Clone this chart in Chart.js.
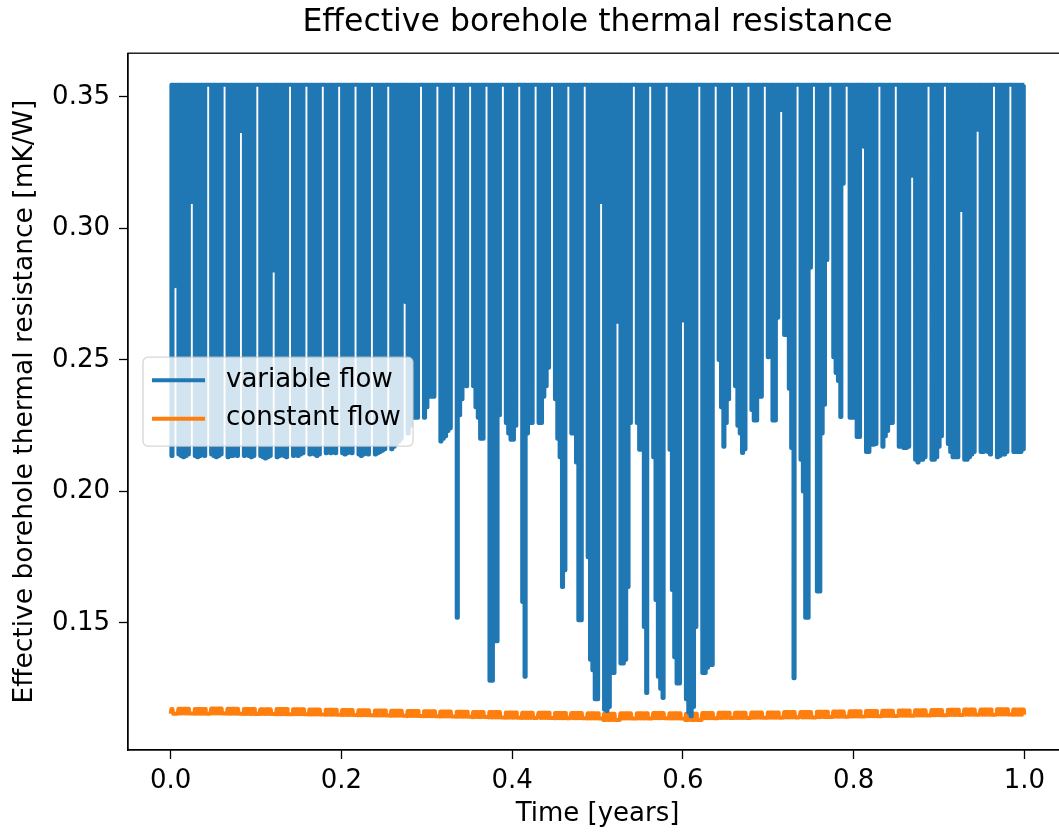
<!DOCTYPE html>
<html><head><meta charset="utf-8">
<script src="https://cdn.jsdelivr.net/npm/chart.js@4.4.0/dist/chart.umd.min.js"></script>
<style>
html,body{margin:0;padding:0;overflow:hidden;background:#fff;width:1059px;height:832px}
#wrap{position:absolute;left:0;top:0;width:1068px;height:832px}
</style>
</head><body><div id="wrap"><canvas id="c" width="1068" height="832"></canvas></div>
<script>
const chartTitle = "Effective borehole thermal resistance";
const xLabel = "Time [years]";
const yLabel = "Effective borehole thermal resistance [mK/W]";
const seriesNames = ["variable flow", "constant flow"];
const xTicks = [0.0, 0.2, 0.4, 0.6, 0.8, 1.0];
const yTicks = [0.15, 0.20, 0.25, 0.30, 0.35];
const daysPerYear = 365;
// resistance level when the pump runs at low flow (top of every daily swing)
const H = 0.3546;
// time of day (fraction) when the daily dip starts / ends
const dipStart = 0.30, dipEnd = 0.78;
// variable flow: lowest value reached each day (5 weekdays + 2 weekend days per row)
const dailyLow = [
  0.2135, 0.278, 0.318,
  0.214,0.2135,0.213,0.2135,0.214, 0.31,0.31,
  0.2135,0.213,0.2135,0.214,0.2135, H,H,
  0.214,0.2135,0.213,0.2135,0.214, H,H,
  0.213,0.2135,0.2135,0.214,0.2135, 0.337,0.337,
  0.2135,0.214,0.2135,0.213,0.2135, H,H,
  0.2135,0.213,0.2125,0.213,0.2135, 0.284,0.284,
  0.213,0.2135,0.214,0.2135,0.213, H,H,
  0.2135,0.214,0.2135,0.214,0.2145, H,H,
  0.214,0.2145,0.214,0.2135,0.214, H,H,
  0.2145,0.215,0.2145,0.215,0.2145, H,H,
  0.2145,0.214,0.2145,0.215,0.2145, H,H,
  0.214,0.2135,0.214,0.2145,0.214, H,H,
  0.214,0.2145,0.215,0.2155,0.216, H,H,
  0.216,0.217,0.218,0.219,0.22, H,0.272,
  0.222,0.225,0.228,0.228,0.228, H,H,
  0.228,0.232,0.236,0.236,0.236, H,H,
  0.219,0.22,0.221,0.223,0.224, H,H,
  0.152,0.229,0.235,0.241,0.24, H,H,
  0.24,0.232,0.228,0.22,0.22, H,H,
  0.128,0.128,0.143,0.143,0.229, H,H,
  0.226,0.222,0.2196,0.2196,0.225, H,H,
  0.158,0.1295,0.222,0.226,0.226, H,H,
  0.226,0.226,0.236,0.24,0.247, H,H,
  0.235,0.22,0.213,0.1637,0.17, H,H,
  0.222,0.222,0.211,0.151,0.151, H,H,
  0.175,0.136,0.132,0.121,0.121, 0.31,0.31,
  0.117,0.1165,0.118,0.131,0.131, 0.2645,0.2645,
  0.1346,0.1346,0.136,0.1637,0.226, H,H,
  0.226,0.2158,0.2158,0.1485,0.1234, H,H,
  0.213,0.1587,0.1295,0.125,0.1215, H,H,
  0.2158,0.1625,0.137,0.127,0.127, 0.265,0.265,
  0.121,0.116,0.1145,0.118,0.1485, H,H,
  0.131,0.131,0.133,0.134,0.134, H,H,
  0.25,0.232,0.217,0.226,0.235, H,H,
  0.24,0.225,0.222,0.2146,0.216, H,H,
  0.231,0.227,0.227,0.236,0.236, H,H,
  0.251,H,0.227,0.227,0.266, 0.345,0.345,
  0.2595,0.2595,0.239,0.2165,0.129, H,H,
  0.212,0.2,0.152,0.152,0.285, H,H,
  0.162,0.162,0.222,0.233,0.288, H,H,
  0.251,0.245,0.242,0.2283,0.317, H,H,
  0.228,0.228,0.228,0.2207,0.2207, H,0.331,
  0.215,0.215,0.2177,0.2177,0.218, H,H,
  0.217,0.221,0.223,0.226,0.226, H,H,
  0.217,0.217,0.2165,0.2165,0.217, 0.32,0.32,
  0.212,0.211,0.212,0.212,0.213, H,H,
  0.212,0.212,0.213,0.217,0.221, H,H,
  0.218,0.215,0.213,0.213,0.213, 0.307,0.307,
  0.212,0.212,0.213,0.214,0.215, 0.3375,0.3375,
  0.215,0.215,0.216,0.215,0.214, H,H,
  0.213,0.2135,0.214,0.214,0.215, H,H,
  0.215,0.215,0.215,0.215,0.216
];
// constant flow: weekly upper / lower level of the small daily ripple
const cfTop = [0.1173,0.1174,0.1173,0.1175,0.1174,0.1173,0.1172,0.1173,0.1172,0.1171,0.1170,0.1169,0.1168,
  0.1167,0.1166,0.1165,0.1164,0.1163,0.1162,0.1161,0.1161,
  0.1160,0.1159,0.1159,0.1158,0.1158,0.1157,0.1155,0.1157,0.1157,0.1158,0.1157,0.1155,0.1158,
  0.1159,0.1159,0.1160,0.1160,0.1161,0.1161,0.1162,
  0.1163,0.1164,0.1165,0.1166,0.1167,0.1168,
  0.1169,0.1170,0.1171,0.1171,0.1172,0.1171];
const cfBot = [0.1155,0.1156,0.1155,0.1156,0.1155,0.1154,0.1154,0.1153,0.1153,0.1152,0.1151,0.1150,0.1149,
  0.1148,0.1147,0.1146,0.1145,0.1144,0.1143,0.1142,0.1141,
  0.1140,0.1139,0.1139,0.1138,0.1138,0.1137,0.1131,0.1137,0.1137,0.1138,0.1137,0.1131,0.1138,
  0.1139,0.1139,0.1140,0.1140,0.1141,0.1141,0.1142,
  0.1143,0.1144,0.1145,0.1146,0.1147,0.1148,
  0.1149,0.1150,0.1151,0.1151,0.1152,0.1151];

// ---- build the point lists from the arrays above ----
const varPts = [{x: 0, y: H}];
dailyLow.forEach((lo, d) => {
  const t0 = (d + dipStart) / daysPerYear, t1 = (d + dipEnd) / daysPerYear;
  varPts.push({x: t0, y: H}, {x: t0, y: lo}, {x: t1, y: lo}, {x: t1, y: H});
});
varPts.push({x: 1, y: H});

const constPts = [];
dailyLow.forEach((lo, d) => {
  const w = Math.floor((d + 4) / 7);
  const weekend = ((d + 4) % 7) >= 5;
  const peak = weekend ? cfBot[w] : cfTop[w];
  constPts.push({x: d / daysPerYear, y: cfBot[w]},
                {x: (d + dipStart) / daysPerYear, y: peak},
                {x: (d + dipEnd) / daysPerYear, y: peak});
});
constPts.push({x: 1, y: cfBot[cfBot.length - 1]});

const FONT = 'DejaVu Sans';
const colors = ['#1f77b4', '#ff7f0e'];

const framePlugin = {
  id: 'frameAndLegend',
  afterDraw(chart) {
    const {ctx, chartArea: a} = chart;
    ctx.save();
    ctx.strokeStyle = '#000';
    ctx.lineWidth = 1.3;
    ctx.strokeRect(a.left, a.top, a.right - a.left, a.bottom - a.top);
    const bx = a.left + 15, by = a.top + 304, bw = 270, bh = 89, r = 5;
    ctx.beginPath();
    ctx.moveTo(bx + r, by);
    ctx.arcTo(bx + bw, by, bx + bw, by + bh, r);
    ctx.arcTo(bx + bw, by + bh, bx, by + bh, r);
    ctx.arcTo(bx, by + bh, bx, by, r);
    ctx.arcTo(bx, by, bx + bw, by, r);
    ctx.closePath();
    ctx.fillStyle = 'rgba(255,255,255,0.8)';
    ctx.fill();
    ctx.strokeStyle = 'rgba(204,204,204,0.8)';
    ctx.lineWidth = 1.3;
    ctx.stroke();
    chart.data.datasets.forEach((ds, i) => {
      const yy = by + 23 + i * 38.5;
      ctx.beginPath();
      ctx.strokeStyle = ds.borderColor;
      ctx.lineWidth = 4;
      ctx.moveTo(bx + 9, yy);
      ctx.lineTo(bx + 62, yy);
      ctx.stroke();
      ctx.fillStyle = '#000';
      ctx.font = '26px "' + FONT + '"';
      ctx.textBaseline = 'middle';
      ctx.textAlign = 'left';
      ctx.fillText(ds.label, bx + 83, yy);
    });
    ctx.restore();
  }
};

const tickFont = {family: FONT, size: 26};
new Chart(document.getElementById('c'), {
  type: 'line',
  data: {
    datasets: [
      {label: seriesNames[0], data: varPts, borderColor: colors[0], backgroundColor: colors[0],
       borderWidth: 4, pointRadius: 0, tension: 0, fill: false, borderJoinStyle: 'round'},
      {label: seriesNames[1], data: constPts, borderColor: colors[1], backgroundColor: colors[1],
       borderWidth: 4, pointRadius: 0, tension: 0, fill: false, borderJoinStyle: 'round'}
    ]
  },
  options: {
    responsive: false,
    devicePixelRatio: 1,
    animation: false,
    parsing: false,
    normalized: true,
    events: [],
    layout: {padding: {left: 0, right: 1, top: 0, bottom: 0}},
    plugins: {
      legend: {display: false},
      tooltip: {enabled: false},
      title: {display: true, fullSize: false, text: chartTitle, color: '#000',
              font: {family: FONT, size: 31.5, weight: 'normal'}, padding: {top: 4, bottom: 11.4}}
    },
    scales: {
      x: {
        type: 'linear', min: -0.05, max: 1.05,
        afterBuildTicks: s => { s.ticks = xTicks.map(v => ({value: v})); },
        afterFit: s => { s.height = 82; },
        ticks: {color: '#000', font: tickFont, padding: 7, maxRotation: 0, autoSkip: false,
                callback: v => Number(v).toFixed(1)},
        grid: {display: true, drawOnChartArea: false, drawTicks: true, tickLength: 9,
               tickColor: '#000', tickWidth: 1.3},
        border: {display: true, color: '#000', width: 1.3},
        title: {display: true, text: xLabel, color: '#000', font: tickFont, padding: {top: 0, bottom: 2}}
      },
      y: {
        type: 'linear', min: 0.1017, max: 0.3666,
        afterBuildTicks: s => { s.ticks = yTicks.map(v => ({value: v})); },
        afterFit: s => { s.width = 128; },
        ticks: {color: '#000', font: tickFont, padding: 9, autoSkip: false,
                callback: v => Number(v).toFixed(2)},
        grid: {display: true, drawOnChartArea: false, drawTicks: true, tickLength: 9,
               tickColor: '#000', tickWidth: 1.3},
        border: {display: true, color: '#000', width: 1.3},
        title: {display: true, text: yLabel, color: '#000', font: {family: FONT, size: 26.5}, padding: {top: 9, bottom: 0}}
      }
    }
  },
  plugins: [framePlugin]
});
</script>
</body></html>
